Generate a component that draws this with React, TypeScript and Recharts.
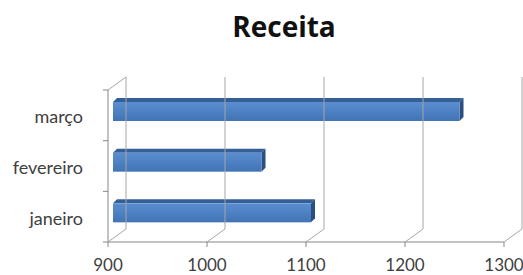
import React from 'react';
import { BarChart, Bar, XAxis, YAxis } from 'recharts';

const months = ['janeiro', 'fevereiro', 'março'];
const receita = [1100, 1050, 1250];
const xTicks = [900, 1000, 1100, 1200, 1300];

const data = months.map((m, i) => ({ mes: m, receita: receita[i] }));

// depth of the 3D "walls" and bars
const WALL_DX = 18;
const WALL_DY = -13;
const BAR_DX = 4;
const BAR_DY = -4;
const PLOT_TOP = 90;
const PLOT_BOTTOM = 242;
const PLOT_LEFT = 108;
const BAND = (PLOT_BOTTOM - PLOT_TOP) / months.length;

const FONT = 'Lato, "Open Sans", sans-serif';

const XTick = ({ x, payload }: any) => {
  const bottom = PLOT_BOTTOM;
  const first = payload.value === xTicks[0];
  return (
    <g>
      <polyline
        points={`${x},${bottom} ${x + WALL_DX},${bottom + WALL_DY} ${x + WALL_DX},${PLOT_TOP + WALL_DY}`}
        fill="none"
        stroke="#a6a6a6"
        strokeWidth={1}
      />
      {first && (
        <line x1={x} y1={PLOT_TOP} x2={x + WALL_DX} y2={PLOT_TOP + WALL_DY} stroke="#a6a6a6" />
      )}
      <line x1={x} y1={bottom} x2={x} y2={bottom + 5} stroke="#868686" />
      <text x={x} y={bottom + 29} textAnchor="middle" fill="#404040" fontSize={17} fontFamily={FONT}>
        {payload.value}
      </text>
    </g>
  );
};

const YTick = ({ y, payload, index }: any) => (
  <g>
    <line x1={PLOT_LEFT - 5} y1={y - BAND / 2} x2={PLOT_LEFT} y2={y - BAND / 2} stroke="#868686" />
    {index === 0 && (
      <line x1={PLOT_LEFT - 5} y1={y + BAND / 2} x2={PLOT_LEFT} y2={y + BAND / 2} stroke="#868686" />
    )}
    <text x={PLOT_LEFT - 25} y={y + 8} textAnchor="end" fill="#404040" fontSize={18} fontFamily={FONT}>
      {payload.value}
    </text>
  </g>
);

const Bar3D = (props: any) => {
  const { x, y, width, height } = props;
  const fx = x + 5;
  const fy = y + BAR_DY;
  const w = width;
  const h = height;
  return (
    <g>
      <polygon
        points={`${fx},${fy} ${fx + BAR_DX},${fy + BAR_DY} ${fx + w + BAR_DX},${fy + BAR_DY} ${fx + w},${fy}`}
        fill="#355f97"
      />
      <polygon
        points={`${fx + w},${fy} ${fx + w + BAR_DX},${fy + BAR_DY} ${fx + w + BAR_DX},${fy + h + BAR_DY} ${fx + w},${fy + h}`}
        fill="#2a4f80"
      />
      <rect x={fx} y={fy} width={w} height={h} fill="url(#barFront)" />
    </g>
  );
};

const App: React.FC = () => {
  return (
    <div style={{ position: 'absolute', left: 0, top: 0, width: 523, height: 275, background: '#fff' }}>
      <div
        style={{
          position: 'absolute',
          left: 0,
          top: 7,
          width: 568,
          textAlign: 'center',
          fontFamily: '"Open Sans", sans-serif',
          fontWeight: 700,
          fontSize: 28,
          lineHeight: '38px',
          color: '#111',
        }}
      >
        Receita
      </div>
      <BarChart
        width={523}
        height={275}
        data={data}
        layout="vertical"
        margin={{ top: PLOT_TOP, right: 19, left: 0, bottom: 0 }}
        barSize={19}
      >
        <defs>
          <linearGradient id="barFront" x1="0" y1="0" x2="0" y2="1">
            <stop offset="0%" stopColor="#5a8ed0" />
            <stop offset="100%" stopColor="#4174b5" />
          </linearGradient>
        </defs>
        <XAxis
          type="number"
          domain={[900, 1300]}
          ticks={xTicks}
          interval={0}
          height={275 - PLOT_BOTTOM}
          axisLine={{ stroke: '#868686' }}
          tickLine={false}
          tick={<XTick />}
          allowDataOverflow
        />
        <YAxis
          type="category"
          dataKey="mes"
          reversed
          width={PLOT_LEFT}
          axisLine={{ stroke: '#868686' }}
          tickLine={false}
          tick={<YTick />}
        />
        <Bar dataKey="receita" shape={<Bar3D />} isAnimationActive={false} />
      </BarChart>
    </div>
  );
};

export default App;
